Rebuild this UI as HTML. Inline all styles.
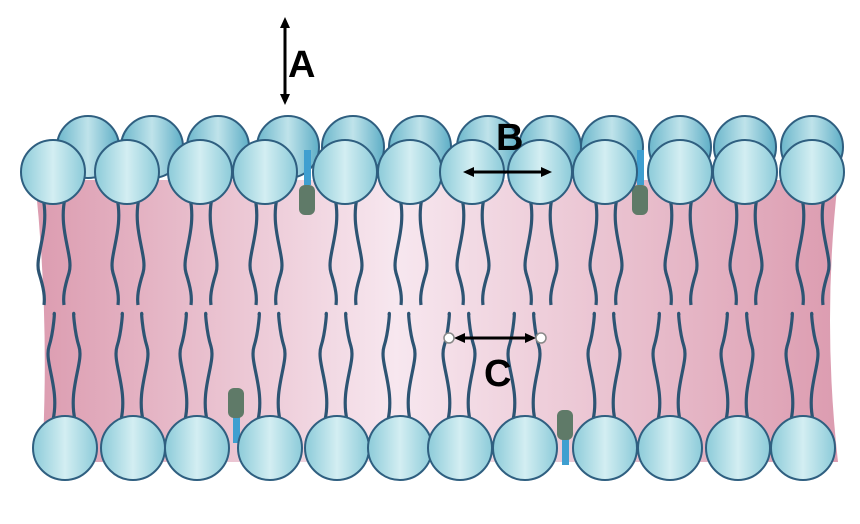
<!DOCTYPE html>
<html><head><meta charset="utf-8"><style>
html,body{margin:0;padding:0;background:#fff;width:860px;height:524px;overflow:hidden}
svg{display:block}
text{font-family:"Liberation Sans",sans-serif;font-weight:bold;fill:#000}
</style></head><body>
<svg id="s" width="860" height="524" viewBox="0 0 860 524" xmlns="http://www.w3.org/2000/svg">
<defs>
<linearGradient id="pk" x1="0" x2="1" y1="0" y2="0">
<stop offset="0" stop-color="#dc9cb0"/><stop offset="0.45" stop-color="#f7e7ef"/><stop offset="1" stop-color="#dc9cb0"/>
</linearGradient>
<linearGradient id="hd" x1="0" x2="1" y1="0" y2="0">
<stop offset="0" stop-color="#8ccbd9"/><stop offset="0.5" stop-color="#d3eef2"/><stop offset="1" stop-color="#8ccbd9"/>
</linearGradient>
<linearGradient id="hb" x1="0" x2="1" y1="0" y2="0">
<stop offset="0" stop-color="#6cb7cc"/><stop offset="0.5" stop-color="#bfe3ea"/><stop offset="1" stop-color="#5eaec6"/>
</linearGradient>
<marker id="ar" markerWidth="11" markerHeight="10" refX="8" refY="5" orient="auto-start-reverse" markerUnits="userSpaceOnUse">
<path d="M0,0 L11,5 L0,10 z" fill="#000"/></marker>
</defs>
<path d="M35,180 Q50,320 42,462 L838,462 Q822,320 838,180 Z" fill="url(#pk)"/>
<g id="g"></g>
<line x1="285" y1="20" x2="285" y2="102" stroke="#000" stroke-width="3" marker-start="url(#ar)" marker-end="url(#ar)"/>
<text x="288" y="77" font-size="38">A</text>
<line x1="466" y1="172" x2="549" y2="172" stroke="#000" stroke-width="3" marker-start="url(#ar)" marker-end="url(#ar)"/>
<text x="496" y="150" font-size="38">B</text>
<line x1="457" y1="338" x2="533" y2="338" stroke="#000" stroke-width="3" marker-start="url(#ar)" marker-end="url(#ar)"/>
<circle cx="449" cy="338" r="5" fill="#fff" stroke="#888" stroke-width="1.5"/>
<circle cx="541" cy="338" r="5" fill="#fff" stroke="#888" stroke-width="1.5"/>
<text x="484" y="386" font-size="38">C</text>
</svg>
<script>
(function(){
var g=document.getElementById('g'),h='';
var back=[88,152,218,288,353,420,488,550,612,680,745,812];
var tp=[53,127,200,265,345,410,472,540,605,680,745,812];
var bt=[65,133,197,270,337,400,460,525,605,670,738,803];
back.forEach(function(x){h+='<circle cx="'+x+'" cy="147" r="31" fill="url(#hb)" stroke="#2f5f80" stroke-width="2"/>';});
function tail(x,y1,y2,d){var L=y2-y1;return '<path d="M'+x+','+y1+' C'+(x+7*d)+','+(y1+L*0.3)+' '+(x-9*d)+','+(y1+L*0.55)+' '+(x-4*d)+','+(y1+L*0.7)+' S'+(x+2*d)+','+(y2-8)+' '+(x+1*d)+','+y2+'" fill="none" stroke="#2d5473" stroke-width="3.2"/>';}
tp.forEach(function(x){h+=tail(x-10,198,305,1)+tail(x+12,198,305,-1);});
bt.forEach(function(x){h+=tail(x-12,420,315,1)+tail(x+10,420,315,-1);});
function chol(x,y,up){h+='<rect x="'+(x-3)+'" y="'+(up?y-35:y)+'" width="7" height="'+(up?35:45)+'" fill="#3f9fd0"/>';h+='<rect x="'+(x-8)+'" y="'+(up?y:y-10)+'" width="16" height="30" rx="6" fill="#5f7a68"/>';}
chol(307,185,true);chol(640,185,true);chol(236,398,false);chol(565,420,false);
tp.forEach(function(x){h+='<circle cx="'+x+'" cy="172" r="32" fill="url(#hd)" stroke="#2f5f80" stroke-width="2"/>';});
bt.forEach(function(x){h+='<circle cx="'+x+'" cy="448" r="32" fill="url(#hd)" stroke="#2f5f80" stroke-width="2"/>';});
g.innerHTML=h;
})();
</script>
</body></html>
